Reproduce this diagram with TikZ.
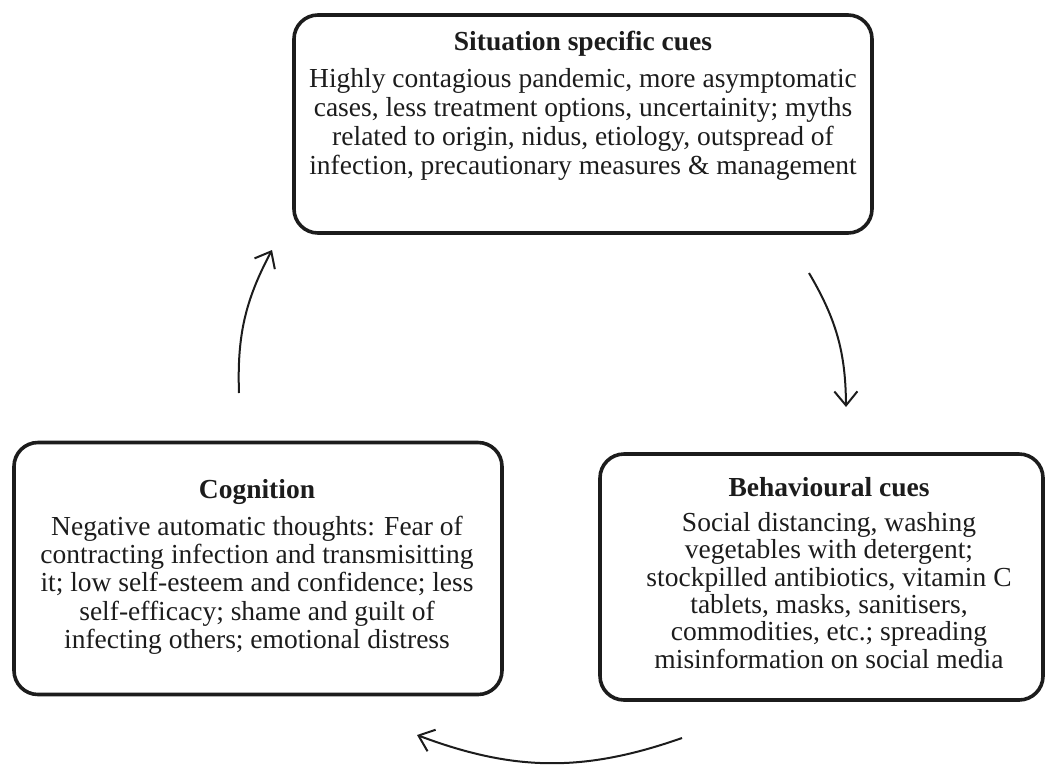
\documentclass[tikz,border=0pt]{standalone}
\usepackage{fontspec}
\setmainfont{Liberation Serif}
\usepackage{xcolor}
\usepackage{tikz}
\usetikzlibrary{positioning,arrows.meta}
\definecolor{ink}{HTML}{1C1C1C}
\tikzset{
  cuebox/.style  = {rectangle, rounded corners=24pt, draw=ink, line width=3.6pt, inner sep=0pt},
  cuehead/.style = {inner sep=0pt, text=ink, font=\fontsize{27.5}{27.5}\selectfont\bfseries},
  cuetext/.style = {inner sep=0pt, text=ink, align=center, font=\fontsize{27.5}{#1}\selectfont},
  cycle/.style   = {-{Straight Barb[length=14pt, width=23pt, line width=2pt]}, line width=2pt, draw=ink},
}

\begin{document}
\begin{tikzpicture}[x=1pt, y=-1pt]
  \useasboundingbox (0,0) rectangle (1048,764);

  %% ---------------- the three boxes ------------------------------------------------------
  \node[cuebox, minimum width=578pt, minimum height=218pt] (sit) at (583,124) {};
  \node[cuebox, minimum width=488pt, minimum height=252pt] (cog) at (258,568.5) {};
  \node[cuebox, minimum width=443pt, minimum height=246pt] (beh) at (821.5,577) {};

  %% ---------------- situation specific cues ----------------------------------------------
  \node[cuehead] (sitT) at (583,44) {Situation specific cues};
  \node[cuetext=29, below=11pt of sitT] (sitB)
    {Highly contagious pandemic, more asymptomatic\\
     cases, less treatment options, uncertainity; myths\\
     related to origin, nidus, etiology, outspread of\\
     infection, precautionary measures \& management};

  %% ---------------- cognition ------------------------------------------------------------
  \node[cuehead] (cogT) at (257,492) {Cognition};
  \node[cuetext=28.3, below=11pt of cogT] (cogB)
    {Negative automatic thoughts: Fear of\\
     contracting infection and transmisitting\\
     it; low self-esteem and confidence; less\\
     self-efficacy; shame and guilt of\\
     infecting others; emotional distress};

  %% ---------------- behavioural cues -----------------------------------------------------
  \node[cuehead] (behT) at (829,487) {Behavioural cues};
  \node[cuetext=27.4, below=15pt of behT] (behB)
    {Social distancing, washing\\
     vegetables with detergent;\\
     stockpilled antibiotics, vitamin C\\
     tablets, masks, sanitisers,\\
     commodities, etc.; spreading\\
     misinformation on social media};

  %% ---------------- the cycle ------------------------------------------------------------
  \coordinate (sitIn)   at (272,250);
  \coordinate (sitOut)  at (809,273);
  \coordinate (behIn)   at (846,407);
  \coordinate (behOut)  at (682,738);
  \coordinate (cogIn)   at (417,735);
  \coordinate (cogOut)  at (239,393);
  \draw[cycle] (cogOut) to[bend left=15] (sitIn);
  \draw[cycle] (sitOut) to[bend left=15] (behIn);
  \draw[cycle] (behOut) to[bend left=20] (cogIn);
\end{tikzpicture}
\end{document}
